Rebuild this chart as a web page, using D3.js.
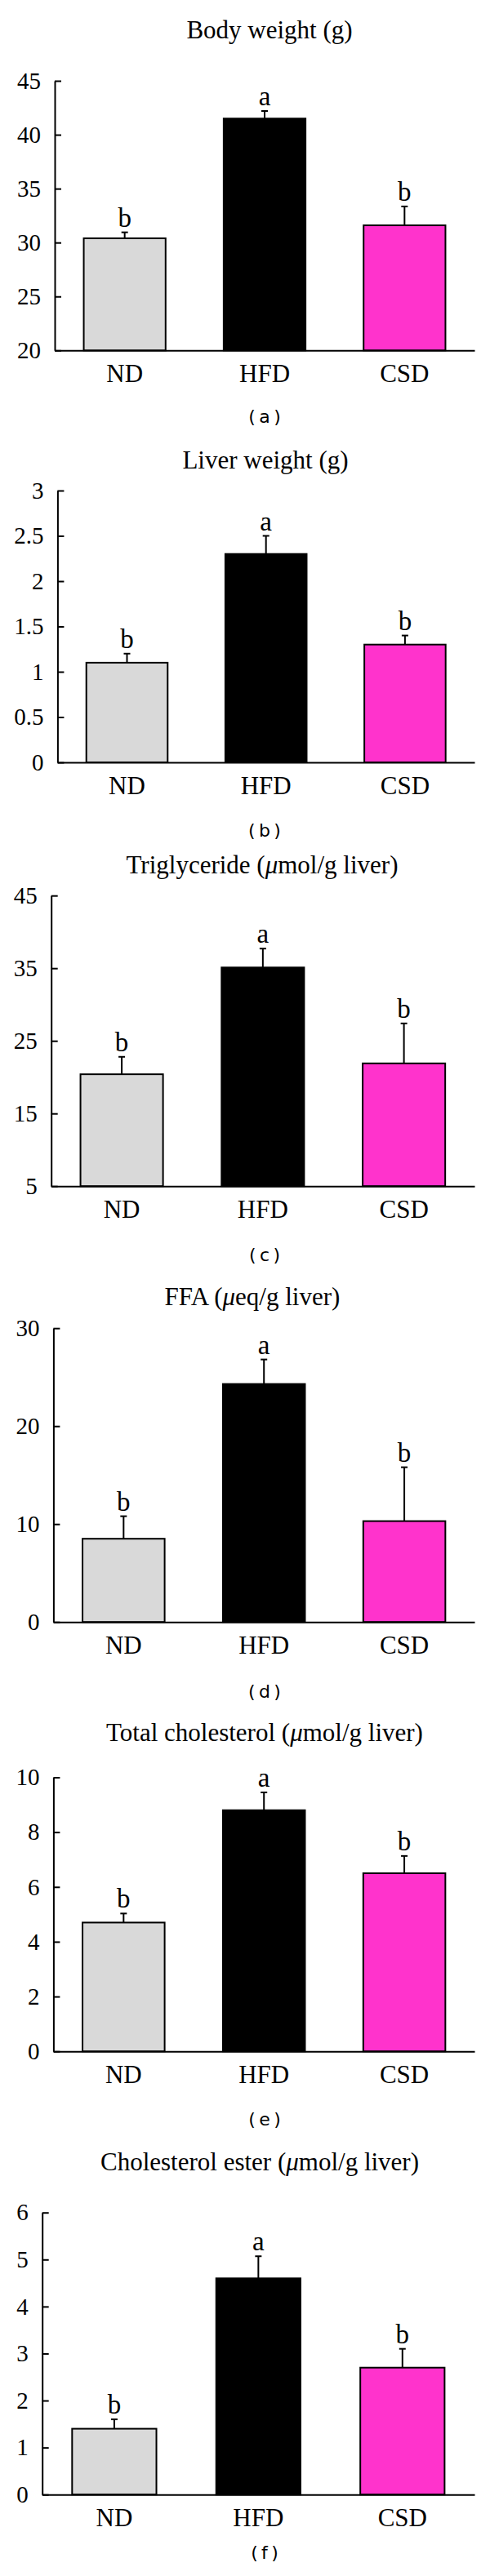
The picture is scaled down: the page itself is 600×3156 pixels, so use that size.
<!DOCTYPE html>
<html>
<head>
<meta charset="utf-8">
<script src="https://cdn.jsdelivr.net/npm/d3@7"></script>
<style>
  html, body { margin: 0; padding: 0; background: #fff; }
  svg { display: block; }
</style>
</head>
<body>
<script>
// ---------- data ----------
const categories = ["ND", "HFD", "CSD"];
const panelLabels = ["a", "b", "c", "d", "e", "f"];

// titles split as [before, italic part, after]
const titles = [
  ["Body weight (g)", "", ""],
  ["Liver weight (g)", "", ""],
  ["Triglyceride (", "\u03BC", "mol/g liver)"],
  ["FFA (", "\u03BC", "eq/g liver)"],
  ["Total cholesterol (", "\u03BC", "mol/g liver)"],
  ["Cholesterol ester (", "\u03BC", "mol/g liver)"]
];

const bodyWeight = [30.4, 41.5, 31.6];
const bodyWeightSE = [0.55, 0.7, 1.75];
const liverWeight = [1.1, 2.3, 1.3];
const liverWeightSE = [0.1, 0.2, 0.1];
const triglyceride = [20.4, 35.1, 21.9];
const triglycerideSE = [2.4, 2.6, 5.5];
const ffa = [8.5, 24.3, 10.3];
const ffaSE = [2.3, 2.5, 5.5];
const totalCholesterol = [4.7, 8.8, 6.5];
const totalCholesterolSE = [0.33, 0.65, 0.63];
const cholesterolEster = [1.4, 4.6, 2.7];
const cholesterolEsterSE = [0.2, 0.47, 0.4];

const letters = ["b", "a", "b"];

const ticksA = [20, 25, 30, 35, 40, 45];
const ticksB = [0, 0.5, 1, 1.5, 2, 2.5, 3];
const ticksC = [5, 15, 25, 35, 45];
const ticksD = [0, 10, 20, 30];
const ticksE = [0, 2, 4, 6, 8, 10];
const ticksF = [0, 1, 2, 3, 4, 5, 6];

// ---------- assembled panels ----------
const panelValues = [bodyWeight, liverWeight, triglyceride, ffa, totalCholesterol, cholesterolEster];
const panelSE = [bodyWeightSE, liverWeightSE, triglycerideSE, ffaSE, totalCholesterolSE, cholesterolEsterSE];
const panelTicks = [ticksA, ticksB, ticksC, ticksD, ticksE, ticksF];

// ---------- layout (pixels) ----------
const layout = [
  { axisX: 67,   yTop: 99,     yBot: 429.3,  titleX: 330, titleY: 47,   capY: 518 },
  { axisX: 70.4, yTop: 601,    yBot: 934,    titleX: 325, titleY: 574,  capY: 1025 },
  { axisX: 62.7, yTop: 1097.2, yBot: 1453.2, titleX: 321, titleY: 1070, capY: 1545 },
  { axisX: 65.4, yTop: 1627.2, yBot: 1987.2, titleX: 309, titleY: 1599, capY: 2080 },
  { axisX: 65.4, yTop: 2177.5, yBot: 2513.2, titleX: 324, titleY: 2133, capY: 2604 },
  { axisX: 51.7, yTop: 2710.7, yBot: 3056.2, titleX: 318, titleY: 2659, capY: 3134.5 }
];
const axisRight = 581;
const colors = ["#d9d9d9", "#000000", "#ff33cc"];
const serif = "'Liberation Serif', 'Times New Roman', serif";

const svg = d3.select("body").append("svg")
  .attr("width", 600).attr("height", 3156)
  .style("background", "#fff");

panelValues.forEach((vals, i) => {
  const L = layout[i];
  const se = panelSE[i];
  const ticks = panelTicks[i];
  const g = svg.append("g");

  const x = d3.scaleBand().domain(categories)
    .range([L.axisX, axisRight])
    .paddingInner(0.415).paddingOuter(0.2075);
  const y = d3.scaleLinear().domain([ticks[0], ticks[ticks.length - 1]])
    .range([L.yBot, L.yTop]);

  // title
  const t = g.append("text")
    .attr("x", L.titleX).attr("y", L.titleY)
    .attr("text-anchor", "middle")
    .style("font-family", serif).style("font-size", "31px");
  t.append("tspan").text(titles[i][0]);
  if (titles[i][1]) {
    t.append("tspan").style("font-style", "italic").text(titles[i][1]);
    t.append("tspan").text(titles[i][2]);
  }

  // bars
  g.selectAll("rect.bar").data(vals).join("rect")
    .attr("class", "bar")
    .attr("x", (d, j) => x(categories[j]))
    .attr("width", x.bandwidth())
    .attr("y", d => y(d))
    .attr("height", d => y(ticks[0]) - y(d))
    .attr("fill", (d, j) => colors[j])
    .attr("stroke", "#000").attr("stroke-width", 2);

  // error bars
  const cx = j => x(categories[j]) + x.bandwidth() / 2;
  g.selectAll("line.err").data(vals).join("line")
    .attr("class", "err")
    .attr("x1", (d, j) => cx(j)).attr("x2", (d, j) => cx(j))
    .attr("y1", d => y(d)).attr("y2", (d, j) => y(d + se[j]))
    .attr("stroke", "#000").attr("stroke-width", 2);
  g.selectAll("line.cap").data(vals).join("line")
    .attr("class", "cap")
    .attr("x1", (d, j) => cx(j) - 4).attr("x2", (d, j) => cx(j) + 4)
    .attr("y1", (d, j) => y(d + se[j])).attr("y2", (d, j) => y(d + se[j]))
    .attr("stroke", "#000").attr("stroke-width", 2);

  // significance letters
  g.selectAll("text.sig").data(vals).join("text")
    .attr("class", "sig")
    .attr("x", (d, j) => cx(j))
    .attr("y", (d, j) => y(d + se[j]) - 7)
    .attr("text-anchor", "middle")
    .style("font-family", serif).style("font-size", "33px")
    .text((d, j) => letters[j]);

  // y axis
  const yAxis = d3.axisLeft(y).tickValues(ticks)
    .tickSizeInner(-8).tickSizeOuter(0).tickPadding(17)
    .tickFormat(d3.format("~g"));
  const ya = g.append("g").attr("transform", `translate(${L.axisX},0)`).call(yAxis);
  ya.selectAll("path, line").attr("stroke", "#000").attr("stroke-width", 2);
  ya.selectAll("text").style("font-family", serif).style("font-size", "29px").attr("fill", "#000");

  // x axis
  const xAxis = d3.axisBottom(x).tickSize(0).tickPadding(17);
  const xa = g.append("g").attr("transform", `translate(0,${L.yBot})`).call(xAxis);
  xa.select("path.domain").attr("stroke", "#000").attr("stroke-width", 2);
  xa.selectAll("text").style("font-family", serif).style("font-size", "31px").attr("fill", "#000");

  // caption
  g.append("text")
    .attr("x", 324).attr("y", L.capY)
    .attr("text-anchor", "middle")
    .style("font-family", "'DejaVu Sans', Verdana, sans-serif").style("font-size", "22px")
    .text("(\u2009" + panelLabels[i] + "\u2009)");
});
</script>
</body>
</html>
